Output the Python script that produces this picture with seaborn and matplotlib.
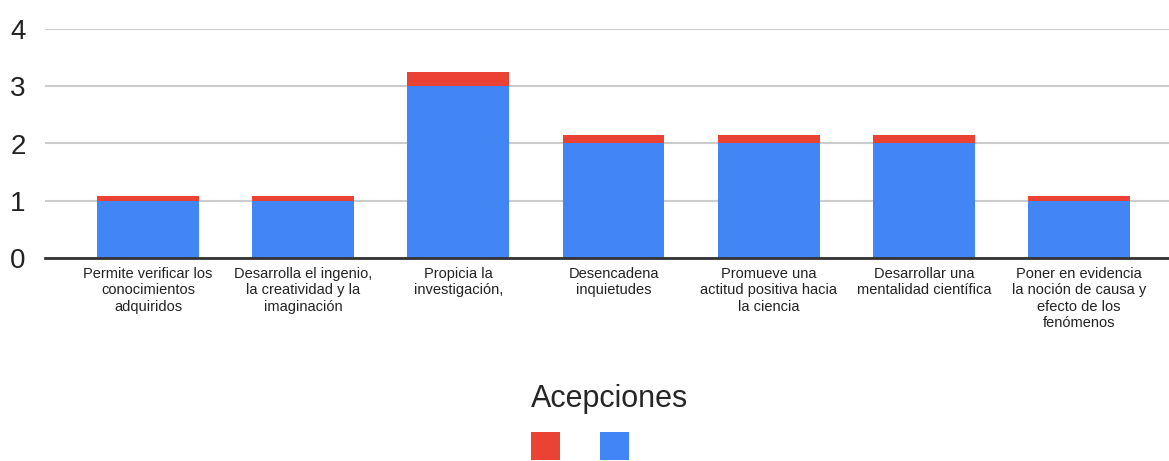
import matplotlib
matplotlib.use("Agg")
import matplotlib.pyplot as plt
from matplotlib.patches import Patch
import seaborn as sns
import pandas as pd

# Categories (acepciones) and stacked series values
categories = [
    "Permite verificar los\nconocimientos\nadquiridos",
    "Desarrolla el ingenio,\nla creatividad y la\nimaginación",
    "Propicia la\ninvestigación,",
    "Desencadena\ninquietudes",
    "Promueve una\nactitud positiva hacia\nla ciencia",
    "Desarrollar una\nmentalidad científica",
    "Poner en evidencia\nla noción de causa y\nefecto de los\nfenómenos",
]
blue_values = [1, 1, 3, 2, 2, 2, 1]
red_values = [0.08, 0.08, 0.25, 0.15, 0.15, 0.15, 0.08]
y_ticks = [0, 1, 2, 3, 4]
legend_title = "Acepciones"

BLUE = "#4285F4"
RED = "#EA4335"

sns.set_theme(style="white")
plt.rcParams["font.family"] = ["Liberation Sans", "DejaVu Sans"]

df = pd.DataFrame({
    "cat": categories,
    "blue": blue_values,
    "red": red_values,
})
df["total"] = df["blue"] + df["red"]

W, H = 1169, 461
fig = plt.figure(figsize=(W / 100, H / 100), dpi=100)
ax = fig.add_axes([45 / W, 1 - 258 / H, (W - 45) / W, (258 - 29) / H])

bar_w = 0.657
sns.barplot(data=df, x="cat", y="total", order=categories, color=RED,
            width=bar_w, saturation=1, linewidth=0, ax=ax, zorder=2)
sns.barplot(data=df, x="cat", y="blue", order=categories, color=BLUE,
            width=bar_w, saturation=1, linewidth=0, ax=ax, zorder=3)

ax.set_xlim(-0.664, 6.58)
ax.set_ylim(0, 4)
ax.set_yticks(y_ticks)
ax.set_yticklabels([str(t) for t in y_ticks], fontsize=20, color="#222222")
ax.set_xticks(range(len(categories)))
ax.set_xticklabels(categories, fontsize=10.5, color="#222222", linespacing=1.22)
ax.tick_params(axis="x", length=0, pad=6.5)
ax.tick_params(axis="y", length=0, pad=14)
ax.set_xlabel("")
ax.set_ylabel("")

ax.set_axisbelow(True)
ax.yaxis.grid(True, color="#cccccc", linewidth=1.5)
for s in ["top", "right", "left"]:
    ax.spines[s].set_visible(False)
ax.spines["bottom"].set_color("#333333")
ax.spines["bottom"].set_linewidth(2)
ax.spines["bottom"].set_zorder(4)

handles = [Patch(facecolor=RED, edgecolor="none"), Patch(facecolor=BLUE, edgecolor="none")]
fig.legend(handles, ["", ""], title=legend_title, title_fontsize=22,
           loc="upper left", bbox_to_anchor=(531 / W, 1 - 384 / H),
           ncol=2, frameon=False, fontsize=10, handlelength=29 / 13.9,
           handleheight=2.75, handletextpad=0, columnspacing=40 / 13.9,
           borderpad=0, borderaxespad=0, labelspacing=1.3, alignment="left")

fig.savefig("out.png", dpi=100)
